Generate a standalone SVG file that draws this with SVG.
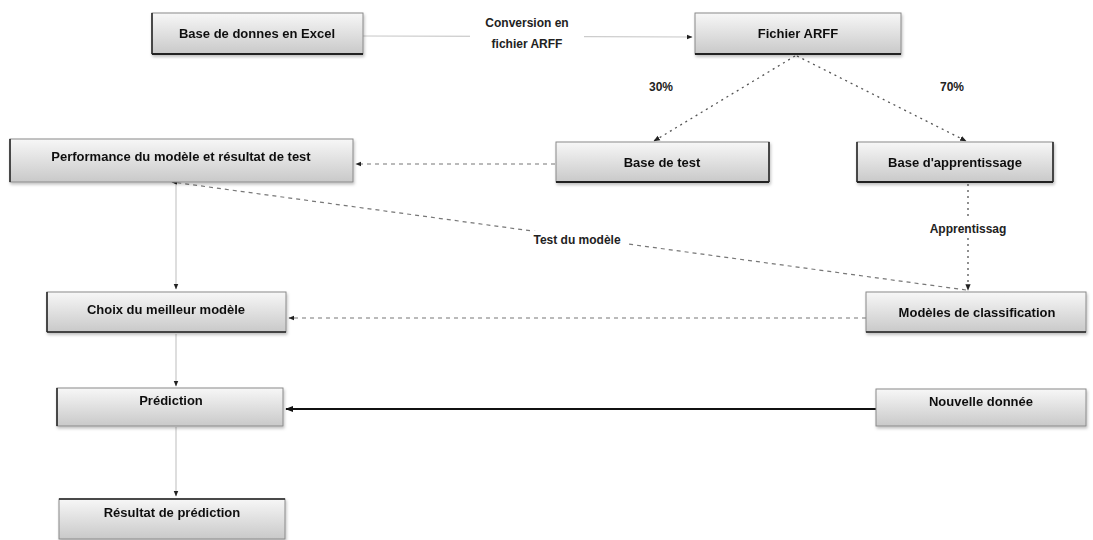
<svg xmlns="http://www.w3.org/2000/svg" width="1093" height="540" viewBox="0 0 1093 540">
  <style>
    .box { fill: url(#boxGrad); stroke: #8a8a8a; stroke-width: 1; }
    .edge { stroke: #222; stroke-width: 2.2; }
    .lbl { font-family: "Liberation Sans", Arial, sans-serif; font-weight: bold; font-size: 13px; fill: #111; text-anchor: middle; }
    .note { font-family: "Liberation Sans", Arial, sans-serif; font-weight: bold; font-size: 12px; fill: #222; text-anchor: middle; }
    .light { stroke: #c8c8c8; stroke-width: 1.2; fill: none; }
    .dot { stroke: #555; stroke-width: 1.3; fill: none; stroke-dasharray: 2 4; }
    .dash { stroke: #777; stroke-width: 1.2; fill: none; stroke-dasharray: 4 4; }
    .solid { stroke: #111; stroke-width: 2; fill: none; }
  </style>
  <defs>
    <linearGradient id="boxGrad" x1="0" y1="0" x2="0" y2="1">
      <stop offset="0" stop-color="#f7f7f7"/>
      <stop offset="1" stop-color="#c9c9c9"/>
    </linearGradient>
    <filter id="shadow" x="-5%" y="-10%" width="110%" height="130%">
      <feDropShadow dx="1" dy="2" stdDeviation="1.5" flood-color="#000" flood-opacity="0.25"/>
    </filter>
    <marker id="arrow" viewBox="0 0 10 10" refX="9" refY="5" markerWidth="5" markerHeight="5" orient="auto">
      <path d="M0,1 L10,5 L0,9 z" fill="#222"/>
    </marker>
    <marker id="arrowBig" viewBox="0 0 10 10" refX="9" refY="5" markerWidth="4" markerHeight="4" orient="auto">
      <path d="M0,1 L10,5 L0,9 z" fill="#111"/>
    </marker>
  </defs>

  <!-- connectors and their labels -->
  <g id="connectors">
    <line class="light" x1="363" y1="36" x2="692" y2="37" marker-end="url(#arrow)"/>
    <line class="dot" x1="795" y1="56" x2="654" y2="141" marker-end="url(#arrow)"/>
    <line class="dot" x1="797" y1="56" x2="966" y2="141" marker-end="url(#arrow)"/>
    <line class="dash" x1="555" y1="164" x2="356" y2="164" marker-end="url(#arrow)"/>
    <line class="dash" x1="966" y1="290" x2="172" y2="182" marker-end="url(#arrow)"/>
    <line class="dot" x1="968" y1="184" x2="968" y2="290" marker-end="url(#arrow)"/>
    <line class="dash" x1="866" y1="318" x2="289" y2="318" marker-end="url(#arrow)"/>
    <line class="solid" x1="876" y1="409" x2="286" y2="409" marker-end="url(#arrowBig)"/>
    <line class="light" x1="176" y1="184" x2="176" y2="289" marker-end="url(#arrow)"/>
    <line class="light" x1="176" y1="334" x2="176" y2="386" marker-end="url(#arrow)"/>
    <line class="light" x1="176" y1="427" x2="176" y2="496" marker-end="url(#arrow)"/>
    <rect x="470" y="14" width="114" height="40" fill="#fff"/>
    <text class="note" x="527" y="27">Conversion en</text>
    <text class="note" x="527" y="48">fichier ARFF</text>
    <text class="note" x="661" y="91">30%</text>
    <text class="note" x="952" y="91">70%</text>
    <rect x="925" y="220" width="86" height="17" fill="#fff"/>
    <text class="note" x="968" y="233">Apprentissag</text>
    <rect x="530" y="231" width="96" height="17" fill="#fff"/>
    <text class="note" x="577" y="244">Test du modèle</text>
  </g>

  <g id="excel" filter="url(#shadow)">
    <rect class="box" x="152" y="13" width="211" height="41"/>
    <line class="edge" x1="152" y1="54" x2="363" y2="54"/>
    <line class="edge" x1="152" y1="13" x2="152" y2="54" style="stroke-width:1.5"/>
    <text class="lbl" x="257" y="38">Base de donnes en Excel</text>
  </g>

  <g id="arff" filter="url(#shadow)">
    <rect class="box" x="695" y="13" width="206" height="41"/>
    <line class="edge" x1="695" y1="54" x2="901" y2="54"/>
    <text class="lbl" x="798" y="38">Fichier ARFF</text>
  </g>

  <g id="test" filter="url(#shadow)">
    <rect class="box" x="556" y="142" width="213" height="40"/>
    <line class="edge" x1="556" y1="182" x2="769" y2="182"/>
    <line class="edge" x1="769" y1="142" x2="769" y2="182" style="stroke-width:1.5"/>
    <text class="lbl" x="662" y="167">Base de test</text>
  </g>

  <g id="apprentissage" filter="url(#shadow)">
    <rect class="box" x="857" y="142" width="196" height="40"/>
    <line class="edge" x1="857" y1="182" x2="1053" y2="182"/>
    <line class="edge" x1="857" y1="142" x2="857" y2="182" style="stroke-width:1.5"/>
    <line class="edge" x1="1053" y1="142" x2="1053" y2="182" style="stroke-width:1.5"/>
    <text class="lbl" x="955" y="167">Base d'apprentissage</text>
  </g>

  <g id="performance" filter="url(#shadow)">
    <rect class="box" x="10" y="139" width="343" height="43"/>
    <line class="edge" x1="10" y1="139" x2="10" y2="182" style="stroke-width:1.5"/>
    <text class="lbl" x="181" y="161">Performance du modèle et résultat de test</text>
  </g>

  <g id="choix" filter="url(#shadow)">
    <rect class="box" x="47" y="292" width="239" height="40"/>
    <line class="edge" x1="47" y1="332" x2="286" y2="332" style="stroke-width:1.5"/>
    <line class="edge" x1="47" y1="292" x2="47" y2="332" style="stroke-width:1.5"/>
    <text class="lbl" x="166" y="314">Choix du meilleur modèle</text>
  </g>

  <g id="modeles" filter="url(#shadow)">
    <rect class="box" x="866" y="292" width="220" height="40"/>
    <line class="edge" x1="866" y1="332" x2="1086" y2="332" style="stroke-width:1.5"/>
    <text class="lbl" x="977" y="317">Modèles de classification</text>
  </g>

  <g id="prediction" filter="url(#shadow)">
    <rect class="box" x="57" y="388" width="226" height="38"/>
    <line class="edge" x1="57" y1="388" x2="57" y2="426" style="stroke-width:1.5"/>
    <text class="lbl" x="171" y="405">Prédiction</text>
  </g>

  <g id="nouvelle" filter="url(#shadow)">
    <rect class="box" x="876" y="389" width="210" height="37"/>
    <text class="lbl" x="981" y="406">Nouvelle donnée</text>
  </g>

  <g id="resultat" filter="url(#shadow)">
    <rect class="box" x="59" y="499" width="226" height="40"/>
    <line class="edge" x1="59" y1="499" x2="285" y2="499" style="stroke-width:1.5"/>
    <text class="lbl" x="172" y="517">Résultat de prédiction</text>
  </g>
</svg>
